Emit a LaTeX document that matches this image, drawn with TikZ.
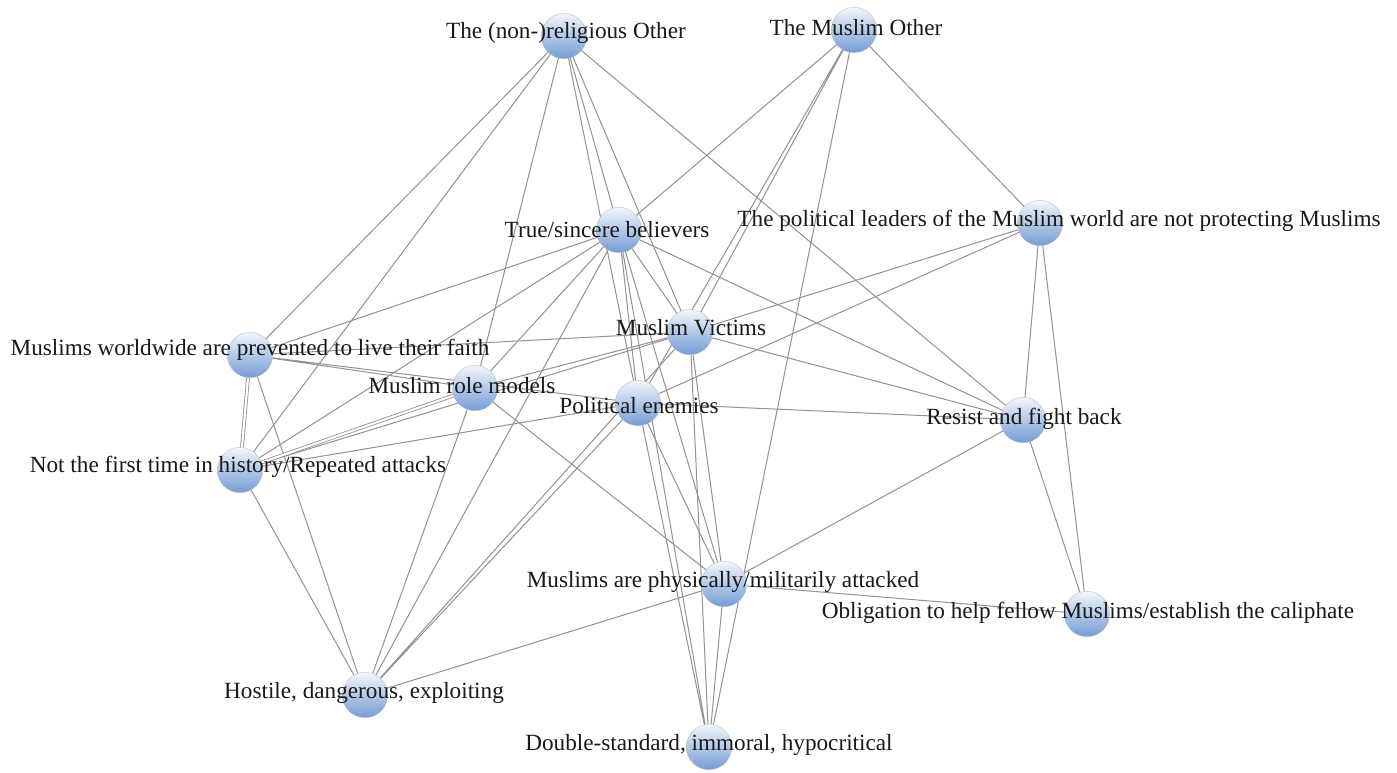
\documentclass[tikz,border=0pt]{standalone}
\usepackage{fontspec}
\setmainfont{Liberation Serif}
\usetikzlibrary{backgrounds}
\definecolor{nodetop}{RGB}{242,246,252}
\definecolor{nodebot}{RGB}{116,156,212}
\definecolor{edgegray}{RGB}{146,146,146}
\tikzset{
  theme/.style = {circle, minimum size=34pt, inner sep=0pt, draw=black!30, very thin,
                  top color=nodetop, bottom color=nodebot},
  lab/.style   = {font=\fontsize{17.4}{20}\selectfont, text=black!90, inner sep=0pt},
  tie/.style   = {draw=edgegray, line width=0.75pt},
  twin/.style  = {draw=edgegray, line width=0.6pt, double=white, double distance=1.6pt},
}

\begin{document}
\begin{tikzpicture}[x=0.75pt, y=-0.75pt]
  \useasboundingbox (0,0) rectangle (1397,773);

  \node[theme] (rel)  at (564,36)   {};
  \node[theme] (mot)  at (854,30)   {};
  \node[theme] (tsb)  at (619,230)  {};
  \node[theme] (lead) at (1040,223) {};
  \node[theme] (vic)  at (690,332)  {};
  \node[theme] (prev) at (250,355)  {};
  \node[theme] (role) at (475,388)  {};
  \node[theme] (pol)  at (638,403)  {};
  \node[theme] (res)  at (1023,420) {};
  \node[theme] (hist) at (240,470)  {};
  \node[theme] (att)  at (724,584)  {};
  \node[theme] (obl)  at (1087,614) {};
  \node[theme] (hos)  at (365,695)  {};
  \node[theme] (dbl)  at (709,747)  {};

  \node[lab] (rel-l)  at (566,33)   {The (non-)religious Other};
  \node[lab] (mot-l)  at (856,28)   {The Muslim Other};
  \node[lab] (tsb-l)  at (607,230)  {True/sincere believers};
  \node[lab] (lead-l) at (1059,221) {The political leaders of the Muslim world are not protecting Muslims};
  \node[lab] (vic-l)  at (691,328)  {Muslim Victims};
  \node[lab] (prev-l) at (250,350)  {Muslims worldwide are prevented to live their faith};
  \node[lab] (role-l) at (462,386)  {Muslim role models};
  \node[lab] (pol-l)  at (639,406)  {Political enemies};
  \node[lab] (res-l)  at (1024,419) {Resist and fight back};
  \node[lab] (hist-l) at (238,467)  {Not the first time in history/Repeated attacks};
  \node[lab] (att-l)  at (723,582)  {Muslims are physically/militarily attacked};
  \node[lab] (obl-l)  at (1088,613) {Obligation to help fellow Muslims/establish the caliphate};
  \node[lab] (hos-l)  at (364,693)  {Hostile, dangerous, exploiting};
  \node[lab] (dbl-l)  at (709,745)  {Double-standard, immoral, hypocritical};

  \begin{scope}[on background layer]
    \fill[white] (0,0) rectangle (1397,773);
    \draw[tie] (rel) -- (prev) (rel) -- (hist) (rel) -- (role) (rel) -- (tsb)
               (rel) -- (pol) (rel) -- (vic) (rel) -- (res);
    \draw[tie] (mot) -- (tsb) (mot) -- (vic) (mot) -- (pol) (mot) -- (dbl) (mot) -- (lead);
    \draw[tie] (lead) -- (vic) (lead) -- (pol) (lead) -- (res) (lead) -- (obl);
    \draw[tie] (res) -- (tsb) (res) -- (vic) (res) -- (pol) (res) -- (att) (res) -- (obl);
    \draw[tie] (att) -- (obl) (att) -- (hos) (att) -- (role) (att) -- (pol)
               (att) -- (vic) (att) -- (tsb) (att) -- (dbl);
    \draw[tie] (dbl) -- (tsb) (dbl) -- (vic) (dbl) -- (pol);
    \draw[tie] (hos) -- (hist) (hos) -- (prev) (hos) -- (role) (hos) -- (tsb)
               (hos) -- (pol) (hos) -- (vic);
    \draw[tie] (prev) -- (tsb) (prev) -- (vic) (prev) -- (role) (prev) -- (pol);
    \draw[tie] (hist) -- (tsb) (hist) -- (vic) (hist) -- (pol);
    \draw[tie] (role) -- (vic) (role) -- (tsb) (tsb) -- (vic) (tsb) -- (pol);
    \draw[twin] (prev) -- (hist);
    \draw[twin] (hist) -- (role);
  \end{scope}
\end{tikzpicture}
\end{document}
